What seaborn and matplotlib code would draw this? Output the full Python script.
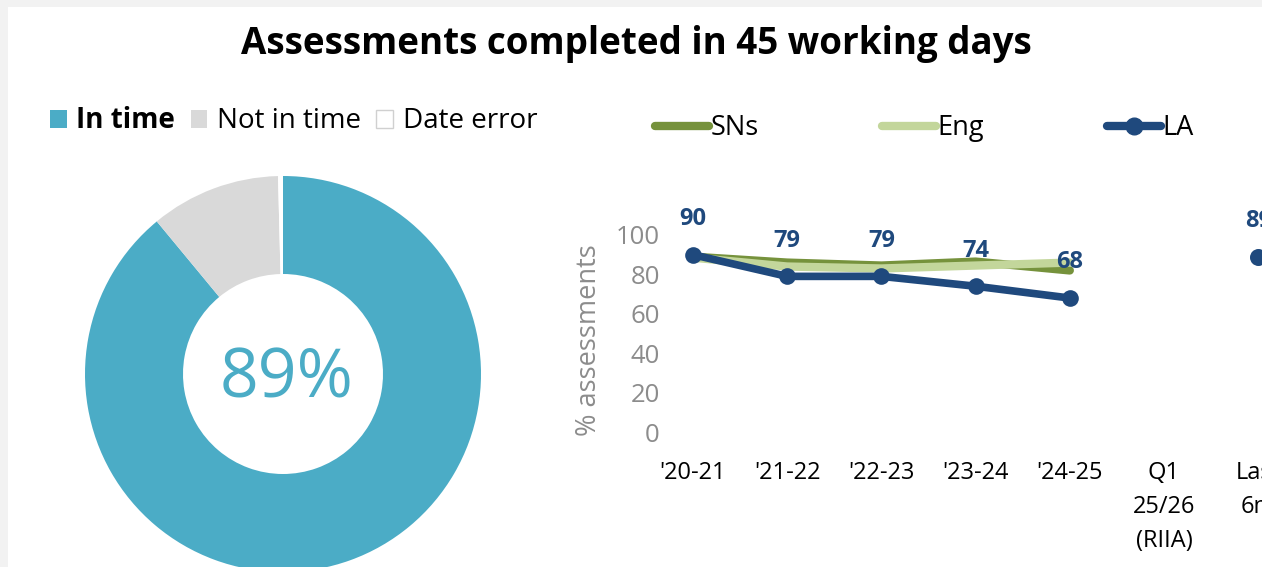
import matplotlib
matplotlib.use("Agg")
import matplotlib.pyplot as plt
from matplotlib.patches import Patch, Rectangle
from matplotlib.lines import Line2D
import seaborn as sns
import pandas as pd
import numpy as np

# donut data (% of assessments)
status_labels = ["In time", "Not in time", "Date error"]
status_values = [89, 10.6, 0.4]
headline = "89%"

# trend data
periods = ["'20-21", "'21-22", "'22-23", "'23-24", "'24-25", "Q1\n25/26\n(RIIA)", "Last\n6m"]
la_vals = [90, 79, 79, 74, 68, np.nan, 89]
sns_vals = [89, 86, 84.5, 86.5, 82, np.nan, np.nan]
eng_vals = [88.5, 84, 83, 84.5, 86, np.nan, np.nan]

C_IN = "#4BACC6"
C_NOT = "#D9D9D9"
C_LA = "#1F497D"
C_SNS = "#76923C"
C_ENG = "#C3D69B"

sns.set_style("white")
plt.rcParams["font.family"] = ["Open Sans", "DejaVu Sans"]
plt.rcParams["text.color"] = "black"

W, H = 1262, 567
fig = plt.figure(figsize=(W / 100, H / 100), dpi=100, facecolor="#f2f2f2")
fig.patches.append(Rectangle((8 / W, 0), 1, 1 - 7 / H, transform=fig.transFigure,
                             facecolor="white", edgecolor="none", zorder=-10))

fig.text(636 / W, 1 - 44 / H, "Assessments completed in 45 working days",
         ha="center", va="center", fontsize=26.5, fontweight="bold")

# ---- donut
cx, cy, r = 283, H - 374, 200
ax_pie = fig.add_axes([(cx - r) / W, (cy - r) / H, 2 * r / W, 2 * r / H])
ax_pie.pie(status_values, colors=[C_IN, C_NOT, "white"], startangle=90, counterclock=False,
           radius=0.99, wedgeprops=dict(width=0.49, edgecolor="none"))
ax_pie.set_xlim(-1, 1)
ax_pie.set_ylim(-1, 1)
ax_pie.axis("off")
ax_pie.text(0.02, -0.03, headline, ha="center", va="center", fontsize=49, color=C_IN)

pie_handles = [Patch(facecolor=C_IN, edgecolor="none"),
               Patch(facecolor=C_NOT, edgecolor="none"),
               Patch(facecolor="white", edgecolor="#d0d0d0")]
leg1 = fig.legend(pie_handles, status_labels, loc="center left", ncol=3,
                  bbox_to_anchor=(39 / W, 1 - 121 / H), frameon=False, fontsize=20,
                  handlelength=0.6, handleheight=0.6, handletextpad=0.35,
                  columnspacing=0.55, borderaxespad=0)
leg1.get_texts()[0].set_fontweight("bold")

# ---- trend lines
x0 = 693
step = 94.2
ax = fig.add_axes([(x0 - step / 2) / W, (H - 432) / H, 7 * step / W, (432 - 235) / H])
pos = np.arange(len(periods))
df = pd.DataFrame({"pos": pos, "LA": la_vals, "SNs": sns_vals, "Eng": eng_vals})
main = df.iloc[:5]

sns.lineplot(data=main, x="pos", y="SNs", ax=ax, color=C_SNS, lw=6,
             solid_capstyle="round", clip_on=False)
sns.lineplot(data=main, x="pos", y="Eng", ax=ax, color=C_ENG, lw=6,
             solid_capstyle="round", clip_on=False)
sns.lineplot(data=main, x="pos", y="LA", ax=ax, color=C_LA, lw=5.5,
             marker="o", markersize=12, markeredgewidth=0, clip_on=False)
sns.scatterplot(data=df.iloc[6:], x="pos", y="LA", ax=ax, color=C_LA, s=150,
                linewidth=0, clip_on=False, zorder=5)

for p, v in zip(pos, la_vals):
    if not np.isnan(v):
        ax.annotate(f"{v:.0f}", (p, v), xytext=(0, 17), textcoords="offset points",
                    ha="center", va="bottom", fontsize=17, fontweight="bold", color=C_LA)

ax.set_xlim(-0.5, len(periods) - 0.5)
ax.set_ylim(0, 100)
ax.set_yticks(range(0, 101, 20))
ax.set_xticks(pos)
ax.set_xticklabels(periods, linespacing=1.56)
ax.tick_params(axis="y", labelsize=18.5, labelcolor="#8c8c8c", length=0, pad=-10)
ax.tick_params(axis="x", labelsize=17, labelcolor="black", length=0, pad=21)
for lbl in ax.get_xticklabels():
    lbl.set_verticalalignment("top")
ax.set_xlabel("")
ax.set_ylabel("% assessments", fontsize=19.5, color="#8c8c8c")
ax.yaxis.set_label_coords((603 - (x0 - step / 2)) / (7 * step), (432 - 340) / 197)
sns.despine(ax=ax, left=True, bottom=True)
ax.patch.set_alpha(0)

line_handles = [Line2D([], [], color=C_SNS, lw=6, solid_capstyle="round"),
                Line2D([], [], color=C_ENG, lw=6, solid_capstyle="round"),
                Line2D([], [], color=C_LA, lw=6, marker="o", markersize=12,
                       solid_capstyle="round")]
fig.legend(line_handles, ["SNs", "Eng", "LA"], loc="center left", ncol=3,
           bbox_to_anchor=(644 / W, 1 - 128 / H), frameon=False, fontsize=19.5,
           handlelength=2.0, handletextpad=0.05, columnspacing=4.55, borderaxespad=0)

fig.savefig("out.png", dpi=100, facecolor=fig.get_facecolor())
